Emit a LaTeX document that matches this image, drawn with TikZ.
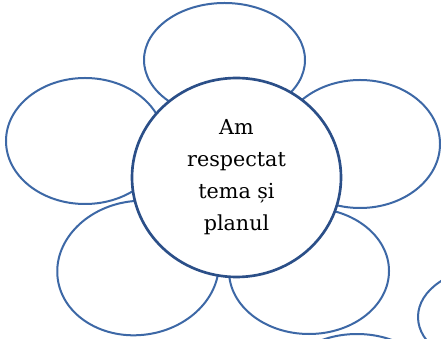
\documentclass[tikz,border=0pt]{standalone}
\usepackage{fontspec}
\setmainfont{DejaVu Serif}
\usetikzlibrary{shapes.geometric}
\definecolor{petalblue}{HTML}{3D68A6}
\definecolor{heartblue}{HTML}{2B4F88}
\tikzset{
  petal/.style={draw=petalblue,line width=1.5pt,fill=white},
  heart/.style={ellipse,draw=heartblue,line width=2pt,fill=white,
    minimum width=156.75pt,minimum height=149.25pt,inner sep=0pt,
    align=center,font=\fontsize{15.5}{24}\selectfont}
}
\begin{document}
\begin{tikzpicture}[x=0.75pt,y=0.75pt]
\clip (0,0) rectangle (441,338);
\fill[white] (0,0) rectangle (441,338);
\draw[petal] (490,21) ellipse [x radius=72,y radius=49];
\draw[petal] (357,-56) ellipse [x radius=80,y radius=60];
\draw[petal] (224.5,278) ellipse [x radius=80.5,y radius=57];
\draw[petal] (360,194) ellipse [x radius=80,y radius=64];
\draw[petal] (85,197) ellipse [x radius=79,y radius=63];
\draw[petal,rotate around={8:(138,70)}] (138,70) ellipse [x radius=81,y radius=67];
\draw[petal] (309,67) ellipse [x radius=80,y radius=63];
\node[heart] (heart) at (236.5,160.5) {Am\\respectat\\tema și\\planul};
\end{tikzpicture}
\end{document}
